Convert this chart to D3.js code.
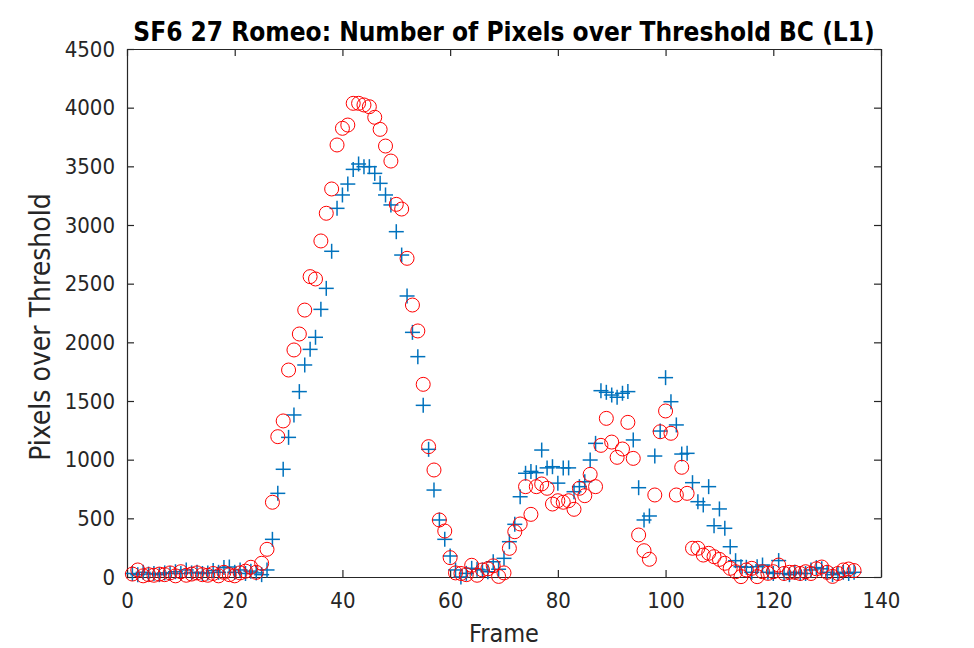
<!DOCTYPE html>
<html lang="en">
<head>
    <script src="https://d3js.org/d3.v7.min.js"></script>
    <style>
        body { margin: 0; background: #fff; }
        text { font-family: 'DejaVu Sans Condensed', 'DejaVu Sans', sans-serif; fill: #262626; }
    </style>
</head>
<body>

<script>
    var w = 974;
    var h = 648;

    // frames 1..135
    var frames = d3.range(1, 136);

    // blue '+' series
    var crossVals = [
        30, 20, 40, 25, 30, 20, 35, 30, 45, 30,
        60, 35, 40, 30, 35, 55, 40, 80, 85, 40,
        60, 30, 50, 35, 20, 60, 321, 713, 918, 1190,
        1381, 1580, 1807, 1940, 2043, 2281, 2460, 2776, 3142, 3256,
        3349, 3474, 3520, 3497, 3497, 3440, 3355, 3256, 3171, 2943,
        2744, 2395, 2085, 1878, 1463, 1088, 741, 486, 321, 179,
        60, 0, 31, 74, 66, 60, 45, 130, 66, 159,
        301, 449, 684, 884, 900, 889, 1082, 930, 940, 800,
        930, 930, 727, 770, 812, 997, 1139, 1588, 1574, 1551,
        1532, 1566, 1580, 1168, 761, 486, 520, 1031, 1244, 1699,
        1494, 1296, 1048, 1054, 804, 642, 614, 770, 437, 580,
        415, 258, 139, 88, 83, 40, 88, 102, 40, 30,
        140, 30, 20, 40, 30, 30, 60, 80, 70, 40,
        20, 30, 40, 30, 40
    ];

    // red 'o' series
    var circleVals = [
        25, 60, 10, 20, 15, 25, 20, 35, 10, 45,
        15, 25, 35, 20, 15, 30, 10, 40, 20, 10,
        35, 50, 83, 40, 117, 236, 637, 1196, 1330, 1764,
        1935, 2071, 2275, 2560, 2540, 2864, 3100, 3307, 3682, 3824,
        3852, 4037, 4037, 4023, 4008, 3918, 3815, 3673, 3545, 3176,
        3136, 2716, 2318, 2097, 1642, 1111, 912, 486, 392, 165,
        35, 30, 20, 100, 15, 60, 70, 95, 5, 35,
        244, 386, 452, 770, 534, 770, 793, 756, 622, 650,
        637, 650, 577, 756, 693, 875, 770, 1122, 1352, 1150,
        1020, 1091, 1318, 1011, 358, 224, 151, 699, 1238, 1415,
        1225, 699, 935, 713, 245, 245, 187, 202, 173, 150,
        117, 74, 45, 3, 60, 74, 3, 45, 31, 45,
        102, 30, 40, 40, 30, 45, 30, 70, 85, 40,
        5, 30, 60, 68, 55
    ];

    var xTicks = [0, 20, 40, 60, 80, 100, 120, 140];
    var yTicks = d3.range(0, 4501, 500);

    var margin = {left: 127, right: 93, top: 49, bottom: 71};
    var pw = w - margin.left - margin.right;
    var ph = h - margin.top - margin.bottom;

    var x = d3.scaleLinear().domain([0, 140]).range([0, pw]);
    var y = d3.scaleLinear().domain([0, 4500]).range([ph, 0]);

    var svg = d3.select('body').append('svg')
        .attr('width', w).attr('height', h);

    var g = svg.append('g')
        .attr('transform', 'translate(' + margin.left + ',' + margin.top + ')');

    var tickLen = 7;

    // bottom + top axes, left + right axes (ticks point inward)
    var xb = g.append('g').attr('transform', 'translate(0,' + ph + ')')
        .call(d3.axisBottom(x).tickValues(xTicks).tickSizeInner(-tickLen).tickSizeOuter(0).tickPadding(15));
    var xt = g.append('g')
        .call(d3.axisTop(x).tickValues(xTicks).tickSizeInner(-tickLen).tickSizeOuter(0).tickFormat(''));
    var yl = g.append('g')
        .call(d3.axisLeft(y).tickValues(yTicks).tickFormat(d3.format('d')).tickSizeInner(-tickLen).tickSizeOuter(0).tickPadding(12));
    var yr = g.append('g').attr('transform', 'translate(' + pw + ',0)')
        .call(d3.axisRight(y).tickValues(yTicks).tickSizeInner(-tickLen).tickSizeOuter(0).tickFormat(''));

    [xb, xt, yl, yr].forEach(function(a) {
        a.selectAll('path').attr('stroke', '#262626').attr('stroke-width', 1.2);
        a.selectAll('line').attr('stroke', '#262626').attr('stroke-width', 1.2);
        a.selectAll('text').attr('font-size', '22px').attr('fill', '#262626')
            .style('font-family', "'DejaVu Sans Condensed', 'DejaVu Sans', sans-serif");
    });

    // blue crosses
    var cs = 7.5;
    var crosses = g.append('g').selectAll('g')
        .data(frames)
        .enter().append('g')
        .attr('transform', function(d, i) { return 'translate(' + x(d) + ',' + y(crossVals[i]) + ')'; });
    crosses.append('line').attr('x1', -cs).attr('x2', cs).attr('y1', 0).attr('y2', 0);
    crosses.append('line').attr('x1', 0).attr('x2', 0).attr('y1', -cs).attr('y2', cs);
    crosses.selectAll('line').attr('stroke', '#0072BD').attr('stroke-width', 1.5);

    // red circles
    g.append('g').selectAll('circle')
        .data(frames)
        .enter().append('circle')
        .attr('cx', function(d) { return x(d); })
        .attr('cy', function(d, i) { return y(circleVals[i]); })
        .attr('r', 7)
        .attr('fill', 'none')
        .attr('stroke', '#FF0000')
        .attr('stroke-width', 1);

    // labels
    svg.append('text')
        .attr('x', margin.left + pw / 2).attr('y', 41)
        .attr('text-anchor', 'middle')
        .attr('font-size', '26px').attr('font-weight', 'bold')
        .style('fill', '#000')
        .text('SF6 27 Romeo: Number of Pixels over Threshold BC (L1)');

    svg.append('text')
        .attr('x', margin.left + pw / 2).attr('y', 642)
        .attr('text-anchor', 'middle')
        .attr('font-size', '25px')
        .text('Frame');

    svg.append('text')
        .attr('transform', 'translate(50,' + (margin.top + ph / 2 + 14) + ') rotate(-90)')
        .attr('text-anchor', 'middle')
        .attr('font-size', '28px')
        .text('Pixels over Threshold');
</script>
</body>
</html>
